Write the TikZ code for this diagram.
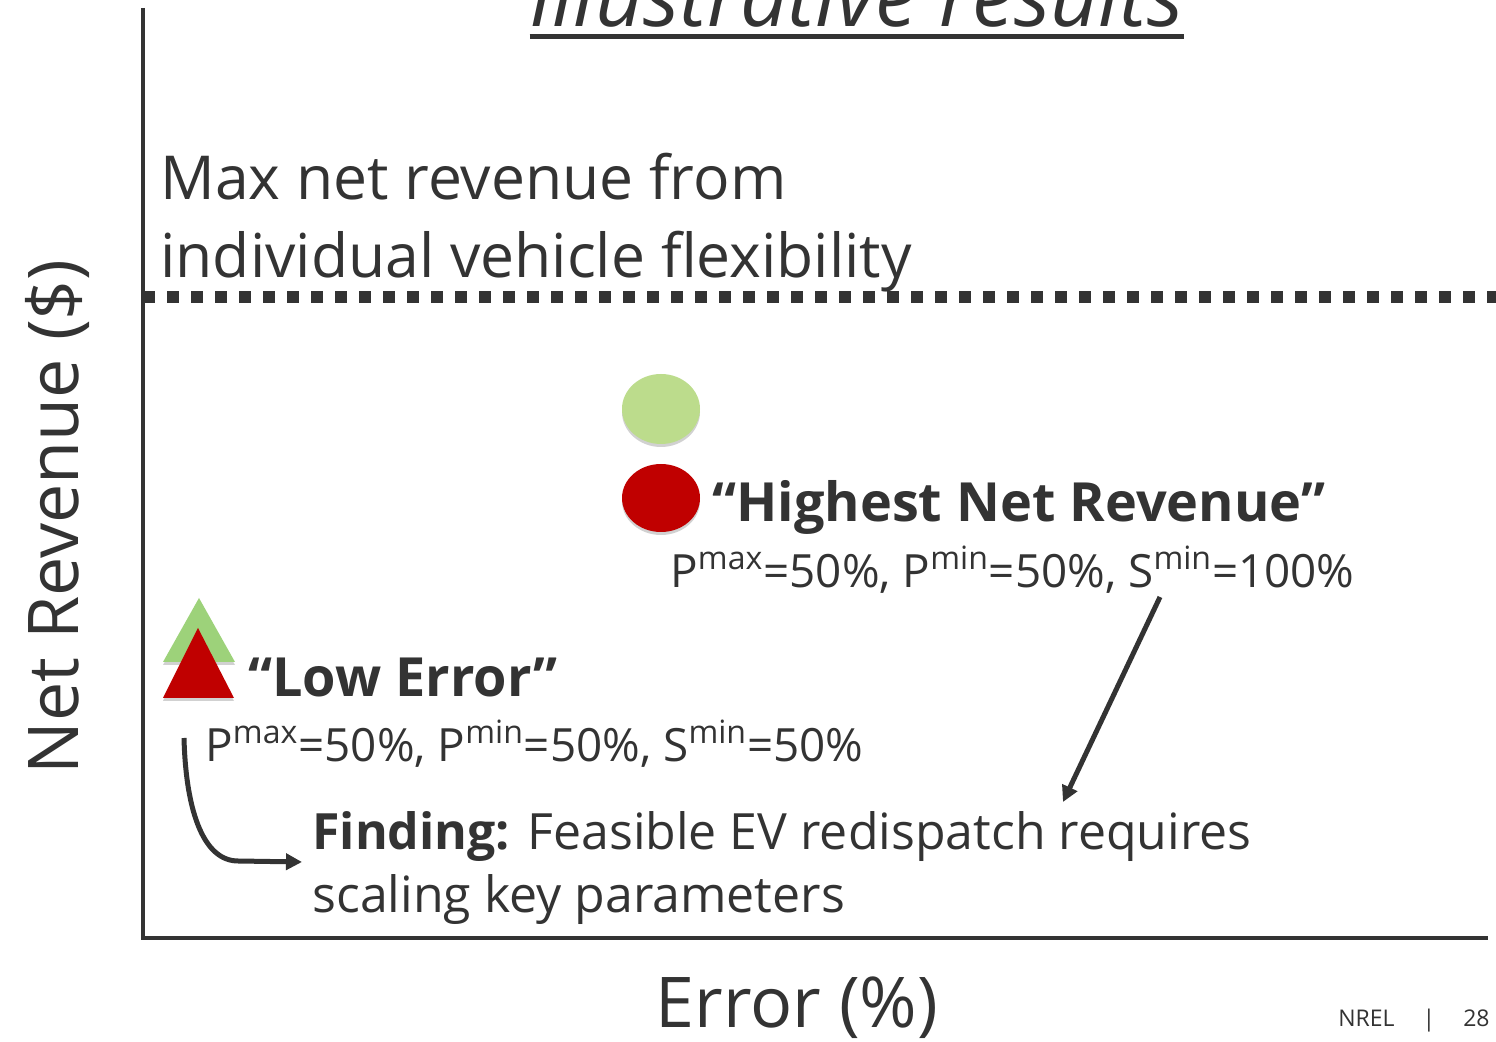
\documentclass[tikz,border=0pt]{standalone}
\usepackage{fontspec}
\setmainfont{Open Sans}
\usetikzlibrary{arrows.meta, positioning, shapes.geometric, shadows, calc}
\definecolor{txtgray}{HTML}{333333}
\definecolor{ptred}{HTML}{C00000}
\definecolor{ptgreen}{HTML}{BCDC8C}
\definecolor{trigreen}{HTML}{9DD27A}
\newcommand{\sups}[1]{\textsuperscript{#1}}

\begin{document}
\begin{tikzpicture}[x=0.5pt, y=-0.5pt,
  every node/.style={text=txtgray, inner sep=0pt},
  axisline/.style={draw=txtgray, line width=2pt},
  dotline/.style={draw=txtgray, line width=6pt, dash pattern=on 6pt off 6pt},
  arrowline/.style={draw=txtgray, line width=2.5pt, -{Triangle[length=8pt,width=8pt]}},
  softshadow/.style={drop shadow={shadow xshift=0pt, shadow yshift=-1.5pt, opacity=0.18, fill=black}}]
  \clip (0,0) rectangle (1496,1042);
  \fill[white] (0,0) rectangle (1496,1042);

  % Axes
  \coordinate (ytop) at (143,8);
  \coordinate (origin) at (143,938);
  \coordinate (xend) at (1488,938);
  \draw[axisline] (ytop) -- (origin) -- (xend);
  \draw[dotline] (143,297) -- (1496,297);

  % Title
  \node[anchor=base, font=\itshape\fontsize{42}{44}\selectfont] (title) at (857,27) {Illustrative results};
  \draw[txtgray, line width=2.5pt] ($(title.base west)+(0,10)$) -- ($(title.base east)+(0,10)$);

  % Axis labels
  \node[rotate=90, anchor=base, font=\fontsize{35}{40}\selectfont] (ylab) at (78,517) {Net Revenue (\$)};
  \node[anchor=base, font=\fontsize{35}{40}\selectfont] (xlab) at (797,1028) {Error (\%)};
  \node[anchor=base west, font=\fontsize{30.3}{35}\selectfont] (maxrev) at (160,200) {Max net revenue from};
  \node[anchor=base west, font=\fontsize{30.3}{35}\selectfont] (flexrev) at (160,278) {individual vehicle flexibility};

  % Markers
  \node[ellipse, fill=ptgreen, minimum width=39pt, minimum height=35pt, softshadow] (hiGreen) at (661,409) {};
  \node[ellipse, fill=ptred, minimum width=39pt, minimum height=34pt, softshadow] (hiRed) at (661,498) {};
  \fill[trigreen, softshadow] (163,662) -- (199,598) -- (235,662) -- cycle;
  \fill[ptred, softshadow] (163,698) -- (198,628) -- (234,698) -- cycle;

  % Case labels
  \node[anchor=base west, font=\bfseries\fontsize{27}{32}\selectfont] (hiName) at (712,522) {“Highest Net Revenue”};
  \node[anchor=base west, font=\fontsize{22.9}{28}\selectfont] (hiPar) at (670,588) {P\sups{max}=50\%, P\sups{min}=50\%, S\sups{min}=100\%};
  \node[anchor=base west, font=\bfseries\fontsize{27}{32}\selectfont] (loName) at (248,697) {“Low Error”};
  \node[anchor=base west, font=\fontsize{22.9}{28}\selectfont] (loPar) at (205,762) {P\sups{max}=50\%, P\sups{min}=50\%, S\sups{min}=50\%};

  % Finding
  \node[anchor=base west, font=\fontsize{25}{30}\selectfont] (find) at (312,850) {\textbf{Finding:} Feasible EV redispatch requires};
  \node[anchor=base west, font=\fontsize{25}{30}\selectfont] (scal) at (312,913) {scaling key parameters};

  % Arrows
  \coordinate (hiTail) at (1160,597);
  \coordinate (hiHead) at (1063,802);
  \coordinate (loTail) at (184,738);
  \coordinate (loBend) at (238,861);
  \coordinate (loHead) at (302,862);
  \draw[arrowline] (hiTail) -- (hiHead);
  \draw[arrowline] (loTail) .. controls (186,815) and (205,861) .. (loBend) -- (loHead);

  % Footer
  \node[anchor=base east, font=\fontsize{11.5}{14}\selectfont] (foot) at (1490,1027) {NREL\hspace{14pt}|\hspace{14pt}28};
\end{tikzpicture}
\end{document}
